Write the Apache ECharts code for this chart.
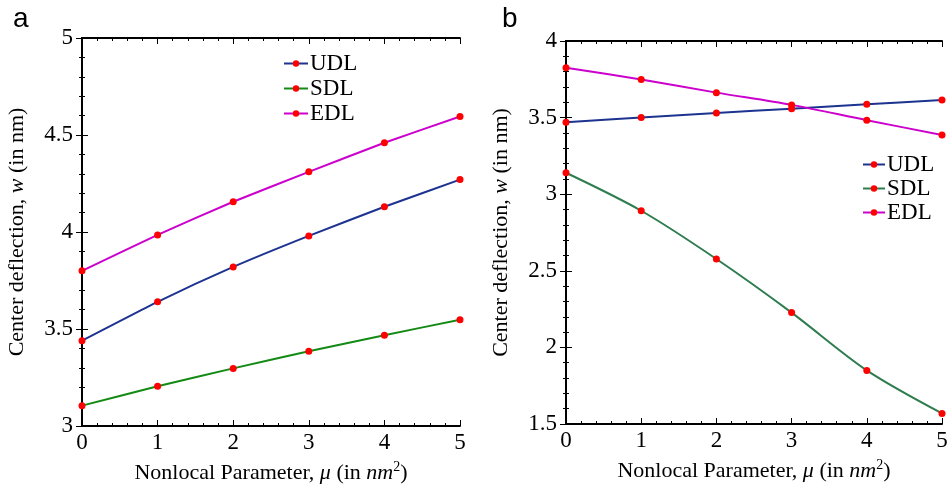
<!DOCTYPE html>
<html>
<head>
<meta charset="utf-8">
<script src="https://cdn.jsdelivr.net/npm/echarts@6/dist/echarts.min.js"></script>
<style>html,body{margin:0;padding:0;background:#fff}#main{width:951px;height:485px}</style>
</head>
<body>
<div id="main"></div>
<script>
// nonlocal parameter values (x)
var mu = [0, 1, 2, 3, 4, 5];
// panel a
var udlA = [3.44, 3.64, 3.82, 3.98, 4.13, 4.27];
var sdlA = [3.105, 3.205, 3.297, 3.385, 3.468, 3.548];
var edlA = [3.80, 3.985, 4.156, 4.31, 4.46, 4.595];
// panel b
var udlB = [3.47, 3.50, 3.53, 3.558, 3.587, 3.615];
var sdlB = [3.14, 2.892, 2.577, 2.227, 1.85, 1.569];
var edlB = [3.826, 3.748, 3.663, 3.583, 3.483, 3.387];

var serif = 'Liberation Serif';
var pairs = function (ys) { return mu.map(function (x, i) { return [x, ys[i]]; }); };

var xName = '{n|Nonlocal Parameter, }{i|μ}{n| (in }{i|nm}{s|2}{n|)}';
var yName = '{n|Center deflection, }{i|w}{n| (in nm)}';
var rich = {
    n: {fontFamily: serif, fontSize: 22, color: '#000'},
    i: {fontFamily: serif, fontSize: 22, fontStyle: 'italic', color: '#000'},
    s: {fontFamily: serif, fontSize: 14, color: '#000', verticalAlign: 'top', padding: [0, 0, 12, 0]}
};
var line = {lineStyle: {color: '#000', width: 2}};

function xAxes(grid, main) {
    return {
        type: 'value', gridIndex: grid, min: 0, max: 5, interval: 1,
        position: main ? 'bottom' : 'top',
        axisLine: line,
        axisTick: {inside: true, length: 6, lineStyle: {color: '#000'}},
        minorTick: {show: true, splitNumber: 5, length: 3, lineStyle: {color: '#000'}},
        splitLine: {show: false},
        axisLabel: {show: main, fontFamily: serif, fontSize: 23, color: '#000', margin: 5},
        name: main ? xName : '', nameLocation: 'middle', nameGap: 34,
        nameTextStyle: {rich: rich}
    };
}
function yAxes(grid, main, mn, mx, gap) {
    return {
        type: 'value', gridIndex: grid, min: mn, max: mx, interval: 0.5,
        position: main ? 'left' : 'right',
        axisLine: line,
        axisTick: {inside: true, length: 6, lineStyle: {color: '#000'}},
        minorTick: {show: true, splitNumber: 5, length: 3, lineStyle: {color: '#000'}},
        splitLine: {show: false},
        axisLabel: {show: main, fontFamily: serif, fontSize: 23, color: '#000', margin: 9},
        name: main ? yName : '', nameLocation: 'middle', nameGap: gap,
        nameTextStyle: {rich: rich}
    };
}
function ser(name, data, color, xi, yi, smooth) {
    return {
        name: name, type: 'line', data: pairs(data), xAxisIndex: xi, yAxisIndex: yi,
        smooth: smooth, symbol: 'circle', symbolSize: 7,
        lineStyle: {color: color, width: 2},
        itemStyle: {color: '#ff0000'}
    };
}

var myChart = echarts.init(document.getElementById('main'));
var option = {
    animation: false,
    title: [
        {text: 'a', left: 8, top: 0, textStyle: {fontFamily: 'Liberation Sans', fontSize: 28, fontWeight: 'normal', color: '#000'}},
        {text: 'b', left: 497, top: 0, textStyle: {fontFamily: 'Liberation Sans', fontSize: 28, fontWeight: 'normal', color: '#000'}}
    ],
    grid: [
        {left: 82, right: 491, top: 38, bottom: 59, outerBoundsMode: 'none'},
        {left: 566, right: 9, top: 41, bottom: 61, outerBoundsMode: 'none'}
    ],
    xAxis: [xAxes(0, true), xAxes(0, false), xAxes(1, true), xAxes(1, false)],
    yAxis: [yAxes(0, true, 3, 5, 54), yAxes(0, false, 3, 5, 0), yAxes(1, true, 1.5, 4, 54), yAxes(1, false, 1.5, 4, 0)],
    legend: [
        {data: ['UDL', 'SDL', 'EDL'], orient: 'vertical', left: 283, top: 52, padding: 0, itemWidth: 24, itemHeight: 8, itemGap: 2,
            textStyle: {fontFamily: serif, fontSize: 23, color: '#000', padding: [0, 0, 0, -3]}},
        {data: ['UDL ', 'SDL ', 'EDL '], orient: 'vertical', left: 862, top: 153, padding: 0, itemWidth: 22, itemHeight: 8, itemGap: 1,
            formatter: function (n) { return n.trim(); },
            textStyle: {fontFamily: serif, fontSize: 23, color: '#000', padding: [0, 0, 0, -3]}}
    ],
    series: [
        ser('UDL', udlA, '#1c3390', 0, 0, 0.15),
        ser('SDL', sdlA, '#138a13', 0, 0, 0.15),
        ser('EDL', edlA, '#cc00cc', 0, 0, 0.15),
        ser('UDL ', udlB, '#1c3390', 2, 2, 0.3),
        ser('SDL ', sdlB, '#2e7d4e', 2, 2, 0.3),
        ser('EDL ', edlB, '#cc00cc', 2, 2, 0.3)
    ]
};
myChart.setOption(option, true);
</script>
</body>
</html>
